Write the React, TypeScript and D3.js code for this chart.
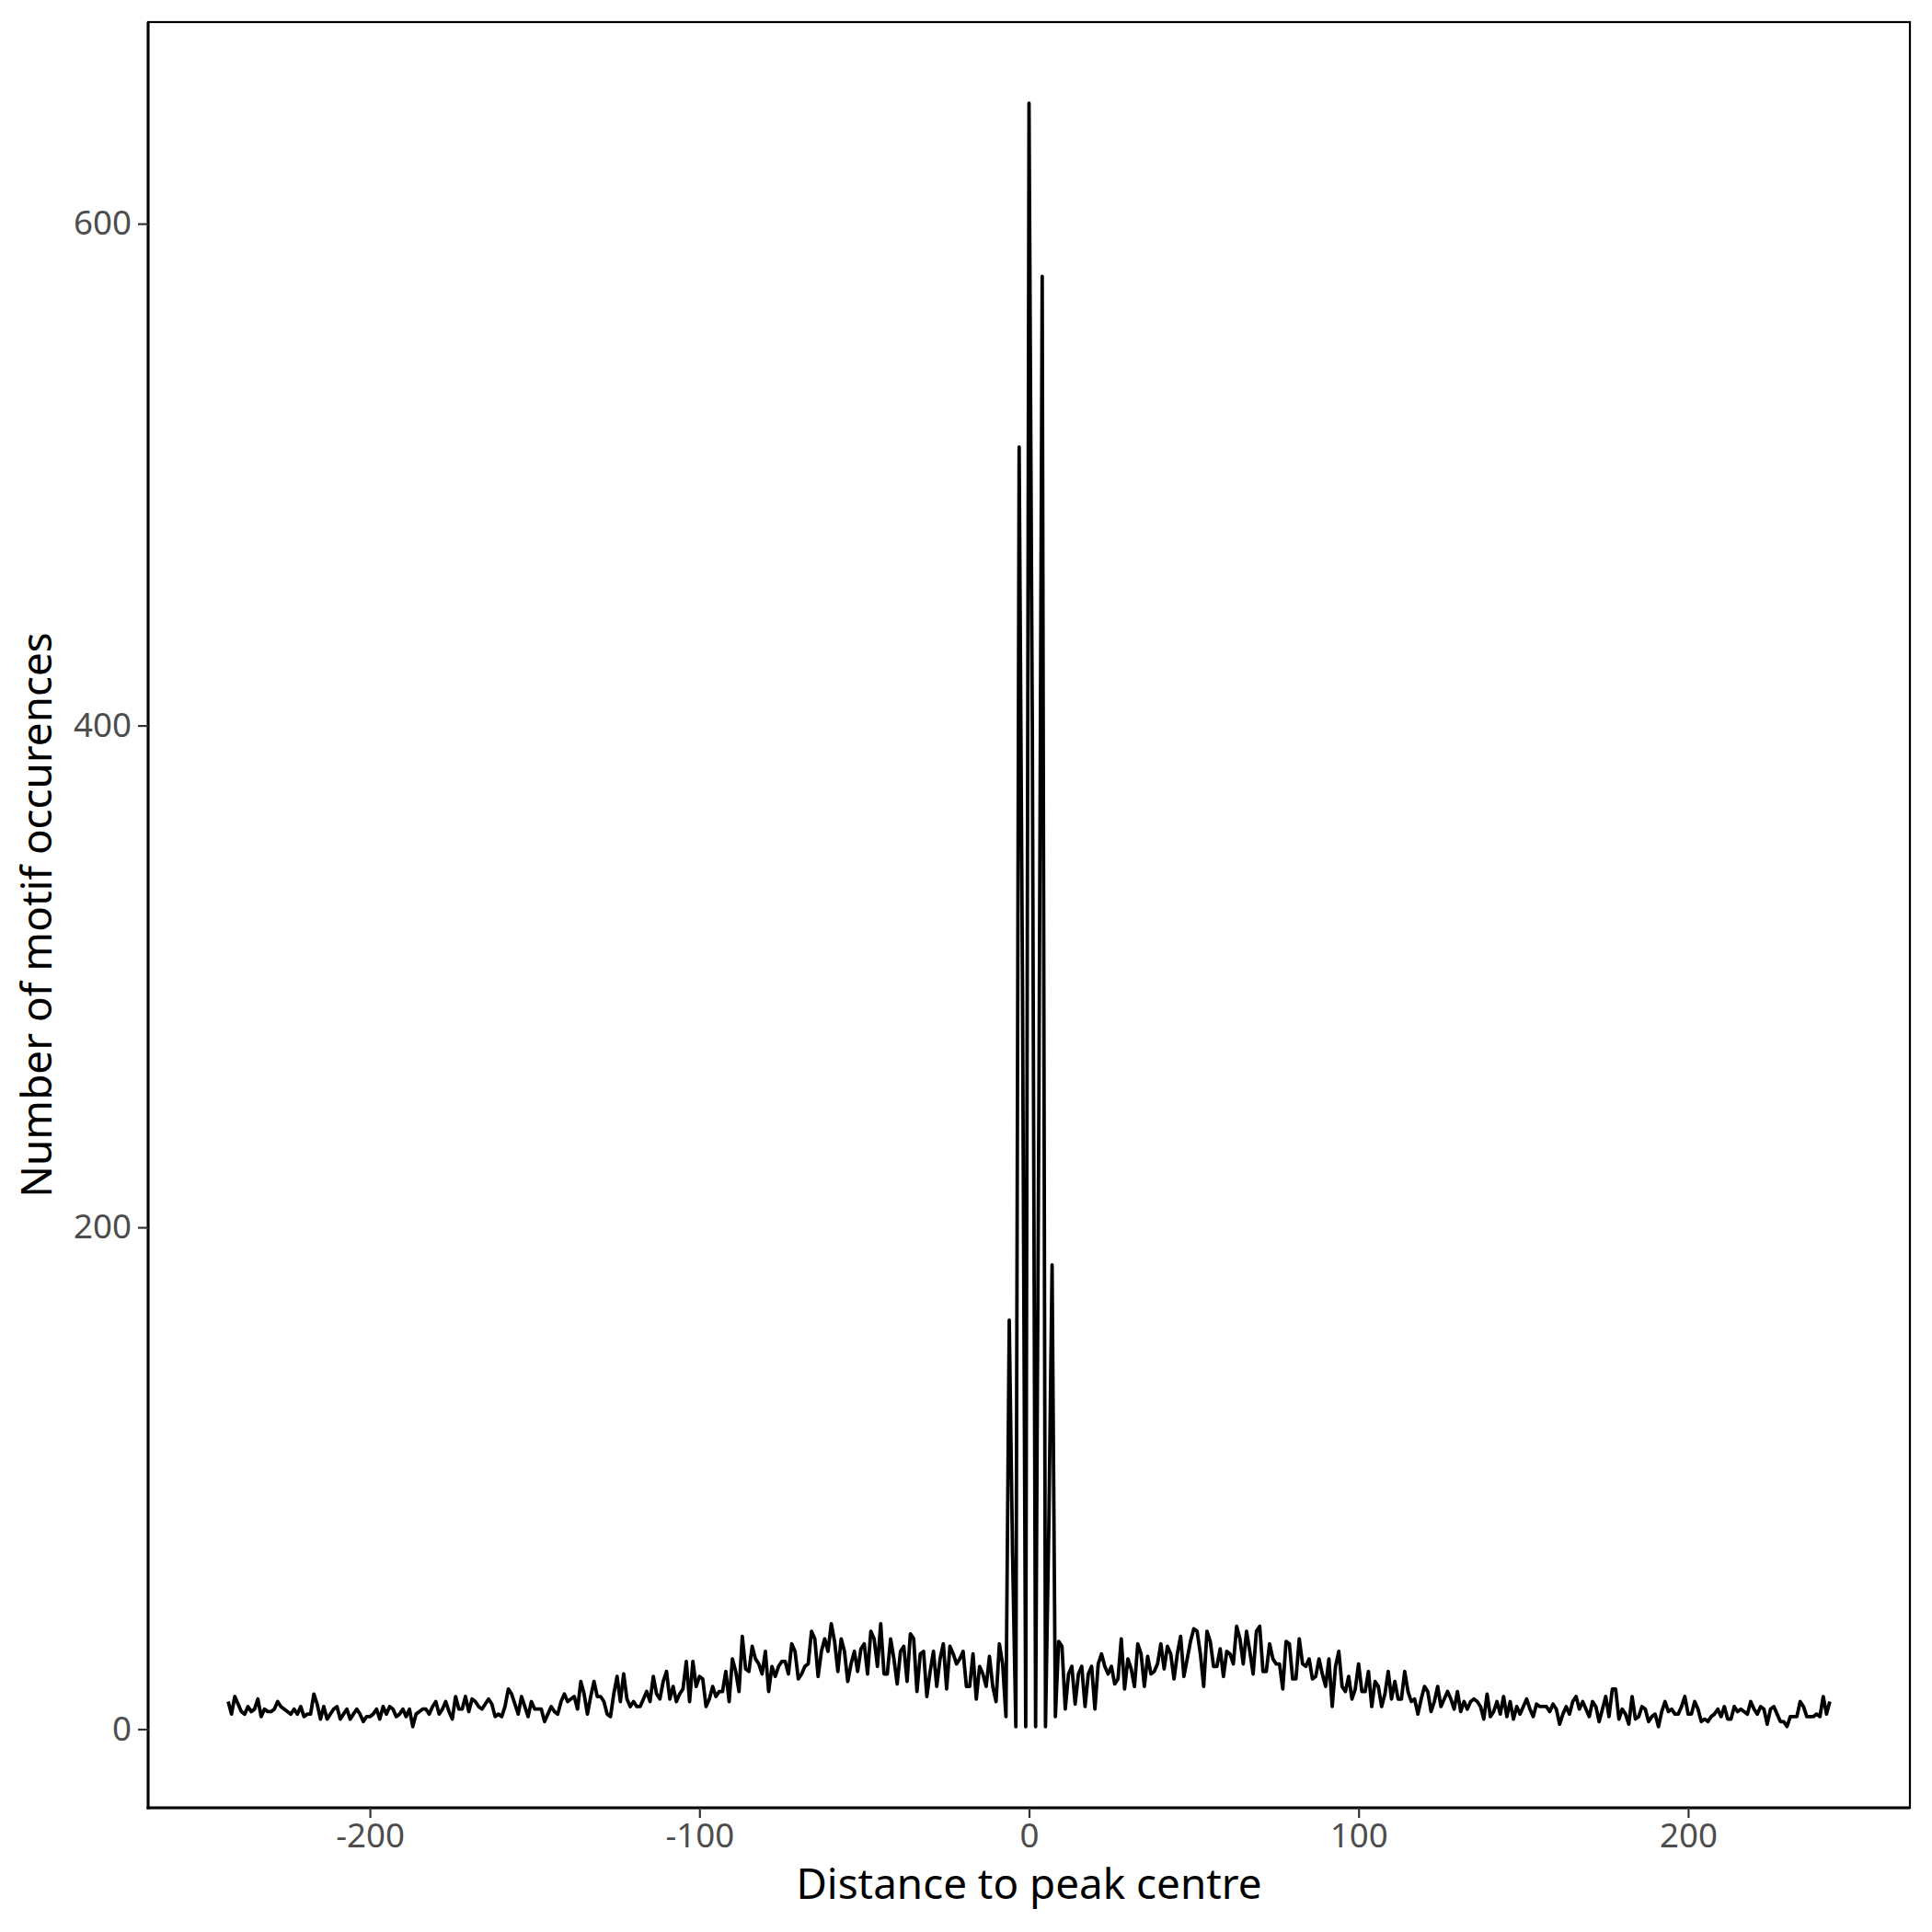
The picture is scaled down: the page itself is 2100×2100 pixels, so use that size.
import React, { useEffect, useRef } from 'react';
import * as d3 from 'd3';

// counts per position, split by region
const startPos = -243;

// -243 .. -165
const outerLeft = [
  11, 6, 13, 10, 7, 6, 9, 7, 8, 12, 5, 8, 7, 7, 8, 11, 9, 8, 7, 6,
  8, 6, 9, 5, 6, 6, 14, 10, 4, 9, 4, 6, 8, 9, 4, 6, 8, 4, 6, 8,
  6, 3, 5, 5, 6, 8, 4, 9, 6, 9, 8, 5, 6, 8, 5, 8, 1, 6, 7, 8,
  8, 6, 9, 11, 6, 8, 11, 7, 4, 13, 8, 8, 13, 7, 12, 11, 9, 8, 10,
];

// -164 .. -80
const innerLeft = [
  12, 10, 5, 6, 5, 9, 16, 14, 10, 6, 13, 9, 5, 11, 8, 8, 8, 3, 6, 9,
  7, 6, 11, 14, 11, 12, 13, 8, 19, 14, 6, 13, 19, 13, 13, 11, 6, 5, 14, 21,
  11, 22, 12, 9, 11, 9, 9, 12, 15, 11, 21, 14, 12, 19, 23, 12, 17, 11, 14, 16,
  27, 11, 27, 17, 21, 20, 9, 12, 17, 13, 15, 15, 23, 11, 28, 23, 15, 37, 24, 23,
  33, 28, 26, 22, 31,
];

// -79 .. -7
const shoulderLeft = [
  15, 25, 21, 25, 27, 27, 22, 34, 31, 20, 22, 25, 26, 39, 36, 21, 31, 36, 31, 42,
  35, 23, 36, 31, 19, 26, 31, 23, 32, 34, 22, 39, 36, 25, 42, 22, 22, 36, 28, 18,
  31, 33, 19, 38, 36, 15, 30, 31, 13, 23, 31, 17, 28, 34, 16, 33, 30, 26, 28, 31,
  17, 17, 30, 12, 25, 22, 17, 29, 17, 11, 34, 26, 5,
];

// -6 .. 8
const core = [163, 70, 1, 511, 300, 1, 648, 400, 1, 250, 579, 1, 80, 185, 5];

// 9 .. 81
const shoulderRight = [
  35, 33, 8, 22, 25, 10, 22, 25, 9, 22, 25, 8, 26, 30, 25, 22, 25, 18, 20, 36,
  16, 28, 24, 17, 34, 30, 17, 29, 22, 23, 26, 34, 24, 33, 30, 20, 30, 37, 21, 28,
  35, 40, 39, 30, 17, 39, 35, 25, 25, 32, 21, 31, 30, 26, 41, 36, 26, 39, 31, 22,
  39, 41, 23, 23, 34, 28, 26, 26, 16, 35, 34, 20, 20,
];

// 82 .. 243
const outerRight = [
  36, 26, 25, 28, 20, 21, 28, 22, 17, 28, 9, 25, 31, 17, 15, 21, 12, 16, 26, 15,
  15, 23, 9, 19, 17, 9, 14, 23, 12, 19, 12, 12, 23, 15, 11, 12, 6, 12, 17, 15,
  7, 11, 17, 9, 12, 15, 12, 8, 15, 7, 11, 8, 11, 12, 11, 9, 4, 14, 5, 7,
  11, 6, 13, 5, 11, 4, 9, 6, 9, 12, 8, 5, 10, 9, 9, 9, 7, 10, 8, 2,
  6, 9, 6, 11, 13, 8, 11, 8, 5, 11, 9, 3, 8, 13, 5, 16, 16, 4, 8, 6,
  2, 13, 4, 5, 9, 8, 3, 5, 6, 1, 7, 11, 7, 8, 6, 6, 9, 13, 6, 6,
  11, 8, 3, 4, 3, 5, 6, 8, 5, 9, 4, 4, 9, 7, 8, 7, 6, 11, 8, 6,
  9, 8, 2, 8, 9, 6, 3, 3, 1, 5, 5, 5, 11, 9, 5, 5, 5, 6, 5, 13,
  6, 11,
];

const xTicks = [-200, -100, 0, 100, 200];
const yTicks = [0, 200, 400, 600];
const xTitle = 'Distance to peak centre';
const yTitle = 'Number of motif occurences';

const counts = [...outerLeft, ...innerLeft, ...shoulderLeft, ...core, ...shoulderRight, ...outerRight];
const points = counts.map((c, i) => ({ pos: startPos + i, count: c }));

const FONT = "'Noto Sans', 'Open Sans', sans-serif";

const App: React.FC = () => {
  const svgRef = useRef<SVGSVGElement>(null);

  useEffect(() => {
    if (!svgRef.current) return;
    const svg = d3.select(svgRef.current);
    svg.selectAll('*').remove();

    const panel = { left: 161, right: 2076, top: 24, bottom: 1965 };

    // ggplot-like 5% expansion
    const xExt = d3.extent(points, d => d.pos) as [number, number];
    const yExt = d3.extent(points, d => d.count) as [number, number];
    const xPad = (xExt[1] - xExt[0]) * 0.05;
    const yPad = (yExt[1] - yExt[0]) * 0.05;

    const x = d3.scaleLinear()
      .domain([xExt[0] - xPad, xExt[1] + xPad])
      .range([panel.left, panel.right]);
    const y = d3.scaleLinear()
      .domain([yExt[0] - yPad, yExt[1] + yPad])
      .range([panel.bottom, panel.top]);

    svg.append('rect')
      .attr('width', 2100).attr('height', 2100)
      .attr('fill', '#ffffff');

    // line
    const line = d3.line<{ pos: number; count: number }>()
      .x(d => x(d.pos))
      .y(d => y(d.count));

    svg.append('path')
      .datum(points)
      .attr('fill', 'none')
      .attr('stroke', '#000000')
      .attr('stroke-width', 3.8)
      .attr('stroke-linejoin', 'round')
      .attr('d', line);

    // panel border
    svg.append('rect')
      .attr('x', panel.left).attr('y', panel.top)
      .attr('width', panel.right - panel.left)
      .attr('height', panel.bottom - panel.top)
      .attr('fill', 'none')
      .attr('stroke', '#000000')
      .attr('stroke-width', 2.2);

    // axis lines
    svg.append('line')
      .attr('x1', panel.left).attr('x2', panel.left)
      .attr('y1', panel.top).attr('y2', panel.bottom + 1.5)
      .attr('stroke', '#000').attr('stroke-width', 3);
    svg.append('line')
      .attr('x1', panel.left - 1.5).attr('x2', panel.right)
      .attr('y1', panel.bottom).attr('y2', panel.bottom)
      .attr('stroke', '#000').attr('stroke-width', 3);

    // Y axis
    const yAxis = svg.append('g')
      .attr('transform', `translate(${panel.left},0)`)
      .call(d3.axisLeft(y).tickValues(yTicks).tickSize(11).tickPadding(7));
    yAxis.select('.domain').remove();
    yAxis.attr('font-family', FONT).attr('font-size', 36.7);
    yAxis.selectAll('line').attr('stroke', '#333333').attr('stroke-width', 2.2);
    yAxis.selectAll('text').attr('fill', '#4D4D4D');

    // X axis
    const xAxis = svg.append('g')
      .attr('transform', `translate(0,${panel.bottom})`)
      .call(d3.axisBottom(x).tickValues(xTicks).tickSize(11).tickPadding(6)
        .tickFormat(d => String(d)));
    xAxis.select('.domain').remove();
    xAxis.attr('font-family', FONT).attr('font-size', 36.7);
    xAxis.selectAll('line').attr('stroke', '#333333').attr('stroke-width', 2.2);
    xAxis.selectAll('text').attr('fill', '#4D4D4D');

    // titles
    svg.append('text')
      .attr('x', (panel.left + panel.right) / 2)
      .attr('y', 2064)
      .attr('text-anchor', 'middle')
      .attr('font-family', FONT)
      .attr('font-size', 45.8)
      .attr('fill', '#000')
      .text(xTitle);

    svg.append('text')
      .attr('transform', `translate(56,${(panel.top + panel.bottom) / 2}) rotate(-90)`)
      .attr('text-anchor', 'middle')
      .attr('font-family', FONT)
      .attr('font-size', 45.8)
      .attr('fill', '#000')
      .text(yTitle);
  }, []);

  return (
    <svg
      ref={svgRef}
      width={2100}
      height={2100}
      style={{ position: 'absolute', left: 0, top: 0, display: 'block' }}
    />
  );
};

export default App;
